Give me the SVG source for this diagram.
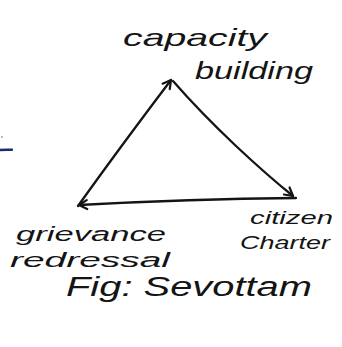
<svg xmlns="http://www.w3.org/2000/svg" width="342" height="347" viewBox="0 0 342 347">
  <style>
    .ink { fill: none; stroke: #141414; stroke-width: 2.3; stroke-linecap: round; stroke-linejoin: round; }
    .lbl { font-family: "Liberation Sans", "DejaVu Sans", sans-serif; font-style: italic; fill: #141414; }
  </style>
  <defs>
    <marker id="head" viewBox="-10 -6 12 12" markerWidth="12" markerHeight="12" refX="0" refY="0" orient="auto" markerUnits="userSpaceOnUse">
      <path d="M-8,-4.5 L0,0 L-8,4.5" fill="none" stroke="#141414" stroke-width="2.2" stroke-linecap="round" stroke-linejoin="round"/>
    </marker>
  </defs>
  <rect width="342" height="347" fill="#ffffff"/>

  <!-- margin mark -->
  <g id="margin-mark">
    <path d="M0,150 Q6,149.5 12,149.8" fill="none" stroke="#1c2b6e" stroke-width="2.4" stroke-linecap="round"/>
    <circle cx="2" cy="137" r="1" fill="#9aa2c0"/>
  </g>

  <!-- cycle of arrows round the triangle -->
  <g id="connectors">
    <path class="ink" d="M78,206 Q118,150 171,80" marker-end="url(#head)"/>
    <path class="ink" d="M173,81 Q200,112 236,146 Q268,176 293,196" marker-end="url(#head)"/>
    <path class="ink" d="M296,198 Q190,199 79,205" marker-end="url(#head)"/>
  </g>

  <g id="node-capacity">
    <text class="lbl" x="123" y="46" font-size="24" textLength="144" lengthAdjust="spacingAndGlyphs">capacity</text>
    <text class="lbl" x="195" y="79" font-size="24" textLength="118" lengthAdjust="spacingAndGlyphs">building</text>
  </g>

  <g id="node-grievance">
    <text class="lbl" x="16" y="241" font-size="20" textLength="150" lengthAdjust="spacingAndGlyphs">grievance</text>
    <text class="lbl" x="10" y="267" font-size="20" textLength="160" lengthAdjust="spacingAndGlyphs">redressal</text>
  </g>

  <g id="node-citizen">
    <text class="lbl" x="250" y="224" font-size="19" textLength="83" lengthAdjust="spacingAndGlyphs">citizen</text>
    <text class="lbl" x="240" y="249" font-size="19" textLength="90" lengthAdjust="spacingAndGlyphs">Charter</text>
  </g>

  <g id="caption">
    <text class="lbl" x="66" y="296" font-size="27" textLength="246" lengthAdjust="spacingAndGlyphs">Fig: Sevottam</text>
  </g>
</svg>
